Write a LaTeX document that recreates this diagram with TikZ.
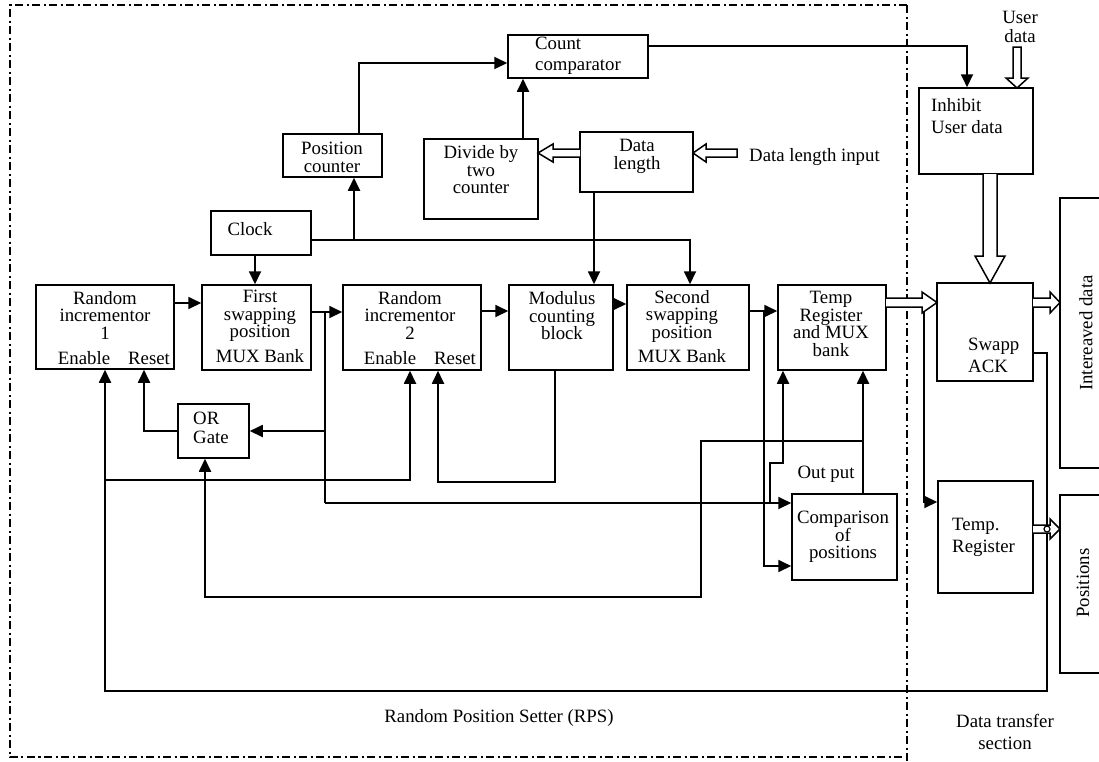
\documentclass[tikz,border=0pt]{standalone}
\usepackage{fontspec}
\setmainfont{Liberation Serif}
\usetikzlibrary{arrows.meta,fit}
\begin{document}
\begin{tikzpicture}[x=1pt,y=-1pt,
  box/.style={draw,line width=1.5pt,inner sep=0pt},
  txt/.style={inner sep=0pt,align=center,font=\fontsize{18.8}{17.5}\selectfont},
  ln/.style={line width=1.8pt},
  arr/.style={line width=1.8pt,-{Triangle[length=13pt,width=12pt]}},
  hol/.style={draw,line width=1.5pt,fill=white,line join=miter},
  frame/.style={line width=2.2pt,dash pattern=on 8pt off 3.5pt on 2pt off 3.5pt}]
\useasboundingbox (0,0) rectangle (1099,761);
% frame
\draw[frame] (907,5) -- (10,5) -- (10,757) -- (907,757);
\draw[frame] (907,5) -- (907,761);
% boxes
\node[box,fit={(508,35) (648,78)}] (cc) {};
\node[box,fit={(283,134) (382,177)}] (pc) {};
\node[box,fit={(424,139) (538,219)}] (dv) {};
\node[box,fit={(580,132) (693,192)}] (dl) {};
\node[box,fit={(211,211) (311,255)}] (clk) {};
\node[box,fit={(36,285) (174,369)}] (ri1) {};
\node[box,fit={(202,285) (311,370)}] (fsw) {};
\node[box,fit={(343,285) (481,370)}] (ri2) {};
\node[box,fit={(509,285) (613,370)}] (mod) {};
\node[box,fit={(627,285) (749,370)}] (ssw) {};
\node[box,fit={(778,285) (886,370)}] (trg) {};
\node[box,fit={(919,88) (1033,174)}] (inh) {};
\node[box,fit={(937,283) (1033,381)}] (sack) {};
\node[box,fit={(938,481) (1033,593)}] (treg) {};
\node[box,fit={(792,494) (897,580)}] (cmp) {};
\node[box,fit={(178,404) (249,458)}] (or) {};
\node[box,fit={(1060,198) (1120,468)}] (ild) {};
\node[box,fit={(1060,495) (1120,673)}] (pos) {};
% texts
\node[txt,align=left,anchor=west,font=\fontsize{18.8}{21}\selectfont] (tcc) at (535,56) {Count\\comparator};
\node[txt,font=\fontsize{18.8}{18}\selectfont] (tpc) at (332,157) {Position\\counter};
\node[txt] (tdv) at (481,170) {Divide by\\two\\ counter};
\node[txt,font=\fontsize{18.8}{18}\selectfont] (tdl) at (637,156) {Data\\length};
\node[txt] (tclk) at (250,229) {Clock};
\node[txt] (tri1) at (105,315) {Random\\incrementor\\1};
\node[txt] (en1) at (84,358) {Enable};
\node[txt] (rs1) at (149,358) {Reset};
\node[txt] (tri2) at (410,315) {Random\\incrementor\\2};
\node[txt] (en2) at (390,358) {Enable};
\node[txt] (rs2) at (455,358) {Reset};
\node[txt,font=\fontsize{18.8}{17.5}\selectfont] (tfsw) at (260,316) {First\\swapping\\position};
\node[txt] (mux1) at (260,356) {MUX Bank};
\node[txt,font=\fontsize{18.8}{17.5}\selectfont] (tmod) at (562,316) {Modulus\\counting\\block};
\node[txt,font=\fontsize{18.8}{17.5}\selectfont] (tssw) at (682,316) {Second\\swapping\\position};
\node[txt] (mux2) at (682,356) {MUX Bank};
\node[txt,font=\fontsize{18.8}{17.5}\selectfont] (ttrg) at (831,324) {Temp\\Register\\and MUX\\bank};
\node[txt,align=left,anchor=west,font=\fontsize{18.8}{22}\selectfont] (tinh) at (931,116) {Inhibit\\User data};
\node[txt,align=left,anchor=west,font=\fontsize{18.8}{22}\selectfont] (tsack) at (968,355) {Swapp\\ACK};
\node[txt,align=left,anchor=west,font=\fontsize{18.8}{19}\selectfont] (tor) at (193,428) {OR\\Gate};
\node[txt] (tout) at (826,474) {Out put};
\node[txt,font=\fontsize{18.8}{17.5}\selectfont] (tcmp) at (843,537) {Comparison\\of\\positions};
\node[txt,align=left,anchor=west,font=\fontsize{18.8}{22}\selectfont] (ttreg) at (952,537) {Temp.\\Register};
\node[txt,rotate=90] (tild) at (1086,333) {Intereaved data};
\node[txt,rotate=90] (tpos) at (1083,583) {Positions};
\node[txt,font=\fontsize{18.8}{19}\selectfont] (tud) at (1020,27) {User\\data};
\node[txt,anchor=west] (tdli) at (749,157) {Data length input};
\node[txt] (trps) at (499,718) {Random Position Setter (RPS)};
\node[txt,font=\fontsize{18.8}{22}\selectfont] (tdts) at (1005,732) {Data transfer\\section};
% connectors
\draw[arr] (ri1.east |- 0,303) -- (fsw.west |- 0,303);
\draw[arr] (fsw.east |- 0,312) -- (ri2.west |- 0,312);
\coordinate (j1) at (325,312);
\draw[ln] (j1) -- (325,503);
\draw[arr] (325,503) -- (cmp.west |- 0,503);
\draw[arr] (325,431) -- (or.east |- 0,431);
\draw[arr] (or.west |- 0,431) -| (ri1.south -| 144,0);
\draw[arr] (sack.east |- 0,353) -| (1047,691) -| (ri1.south -| 105,0);
\draw[arr] (105,480) -| (ri2.south -| 410,0);
\draw[arr] (mod.south -| 555,0) -- (555,482) -| (ri2.south -| 438,0);
\draw[arr] (ri2.east |- 0,311) -- (mod.west |- 0,311);
\draw[arr] (mod.east |- 0,304) -- (ssw.west |- 0,304);
\draw[arr] (ssw.east |- 0,311) -- (trg.west |- 0,311);
\draw[arr] (764,311) -- (764,566) -- (cmp.west |- 0,566);
\draw[arr] (770,503) -- (770,463) -| (trg.south -| 783,0);
\draw[arr] (cmp.north -| 863,0) -- (trg.south -| 863,0);
\draw[arr] (863,441) -| (701,597) -| (or.south -| 205,0);
\draw[arr] (clk.south -| 255,0) -- (fsw.north -| 255,0);
\draw[arr] (clk.east |- 0,240) -| (ssw.north -| 690,0);
\draw[arr] (354,240) -- (pc.south -| 354,0);
\draw[arr] (pc.north -| 359,0) |- (cc.west |- 0,63);
\draw[arr] (dv.north -| 523,0) -- (cc.south -| 523,0);
\draw[arr] (dl.south -| 594,0) -- (mod.north -| 594,0);
\draw[arr] (cc.east |- 0,46) -| (inh.north -| 967,0);
\draw[arr] (924,307) |- (treg.west |- 0,502);
% hollow arrows
\draw[hol] (1013,47) -- (1013,78) -- (1006,78) -- (1017,88) -- (1028,78) -- (1021,78) -- (1021,47) -- cycle;
\draw[hol] (983,174) -- (983,256) -- (975,256) -- (990,283) -- (1005,256) -- (997,256) -- (997,174);
\draw[hol] (737,149) -- (706,149) -- (706,144) -- (693,153) -- (706,162) -- (706,157) -- (737,157) -- cycle;
\draw[hol] (580,149) -- (553,149) -- (553,144) -- (538,153) -- (553,162) -- (553,157) -- (580,157);
\draw[hol] (886,298) -- (922,298) -- (922,292) -- (937,302.5) -- (922,313) -- (922,307) -- (886,307);
\draw[hol] (1033,298) -- (1050,298) -- (1050,292) -- (1060,302.5) -- (1050,313) -- (1050,307) -- (1033,307);
\draw[hol] (1033,525) -- (1050,525) -- (1050,519) -- (1060,529) -- (1050,539) -- (1050,533) -- (1033,533);
\draw[line width=1.2pt,fill=white] (1047,529) circle (3);
\end{tikzpicture}
\end{document}
